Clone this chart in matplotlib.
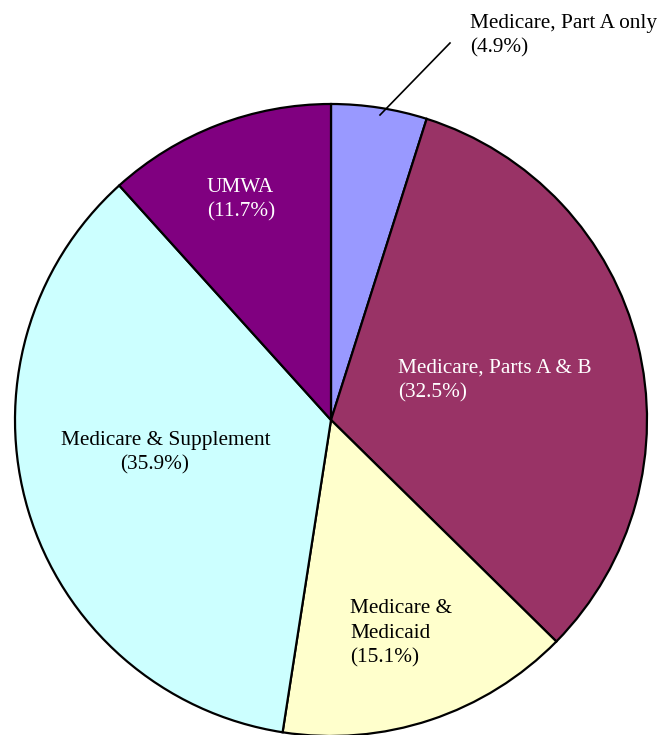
import matplotlib
matplotlib.use("Agg")
import matplotlib.pyplot as plt

categories = ["Medicare, Part A only", "Medicare, Parts A & B", "Medicare & Medicaid",
              "Medicare & Supplement", "UMWA"]
values = [4.9, 32.5, 15.1, 35.9, 11.7]
colors = ["#9999FF", "#993366", "#FFFFCC", "#CCFFFF", "#800080"]
label_lines = [["Medicare, Part A only"], ["Medicare, Parts A & B"], ["Medicare &", "Medicaid"],
               ["Medicare & Supplement"], ["UMWA"]]
text_colors = ["black", "white", "black", "black", "white"]

plt.rcParams['font.family'] = ['Liberation Serif', 'DejaVu Serif']

fig = plt.figure(figsize=(6.61, 7.35), dpi=100)
ax = fig.add_axes([0, 0, 1, 1])

cx, cy, r = 331, 420, 316
ax.pie(values, colors=colors, startangle=-90, counterclock=True, center=(cx, cy), radius=r,
       wedgeprops=dict(edgecolor='black', linewidth=1.6), frame=True)
ax.set_xlim(0, 661)
ax.set_ylim(735, 0)
ax.set_aspect('equal')
ax.axis('off')

# label anchors: (x, first baseline y, ha)
anchors = [(470, 28, 'left'), (398, 373, 'left'), (350, 613, 'left'), (166, 445, 'center'), (207, 192, 'left')]
fs = 15.3
for i, (x, y, ha) in enumerate(anchors):
    lines = label_lines[i] + [f"({values[i]}%)"]
    for j, ln in enumerate(lines):
        xx = x
        if i == 3 and j == 1:
            xx = 155
        ax.text(xx, y + j * 24.5, ln, ha=ha, va='baseline', fontsize=fs, color=text_colors[i])

# leader line for small slice
ax.plot([380, 450], [115, 43], color='black', linewidth=1.2)

fig.savefig("out.png", dpi=100)
